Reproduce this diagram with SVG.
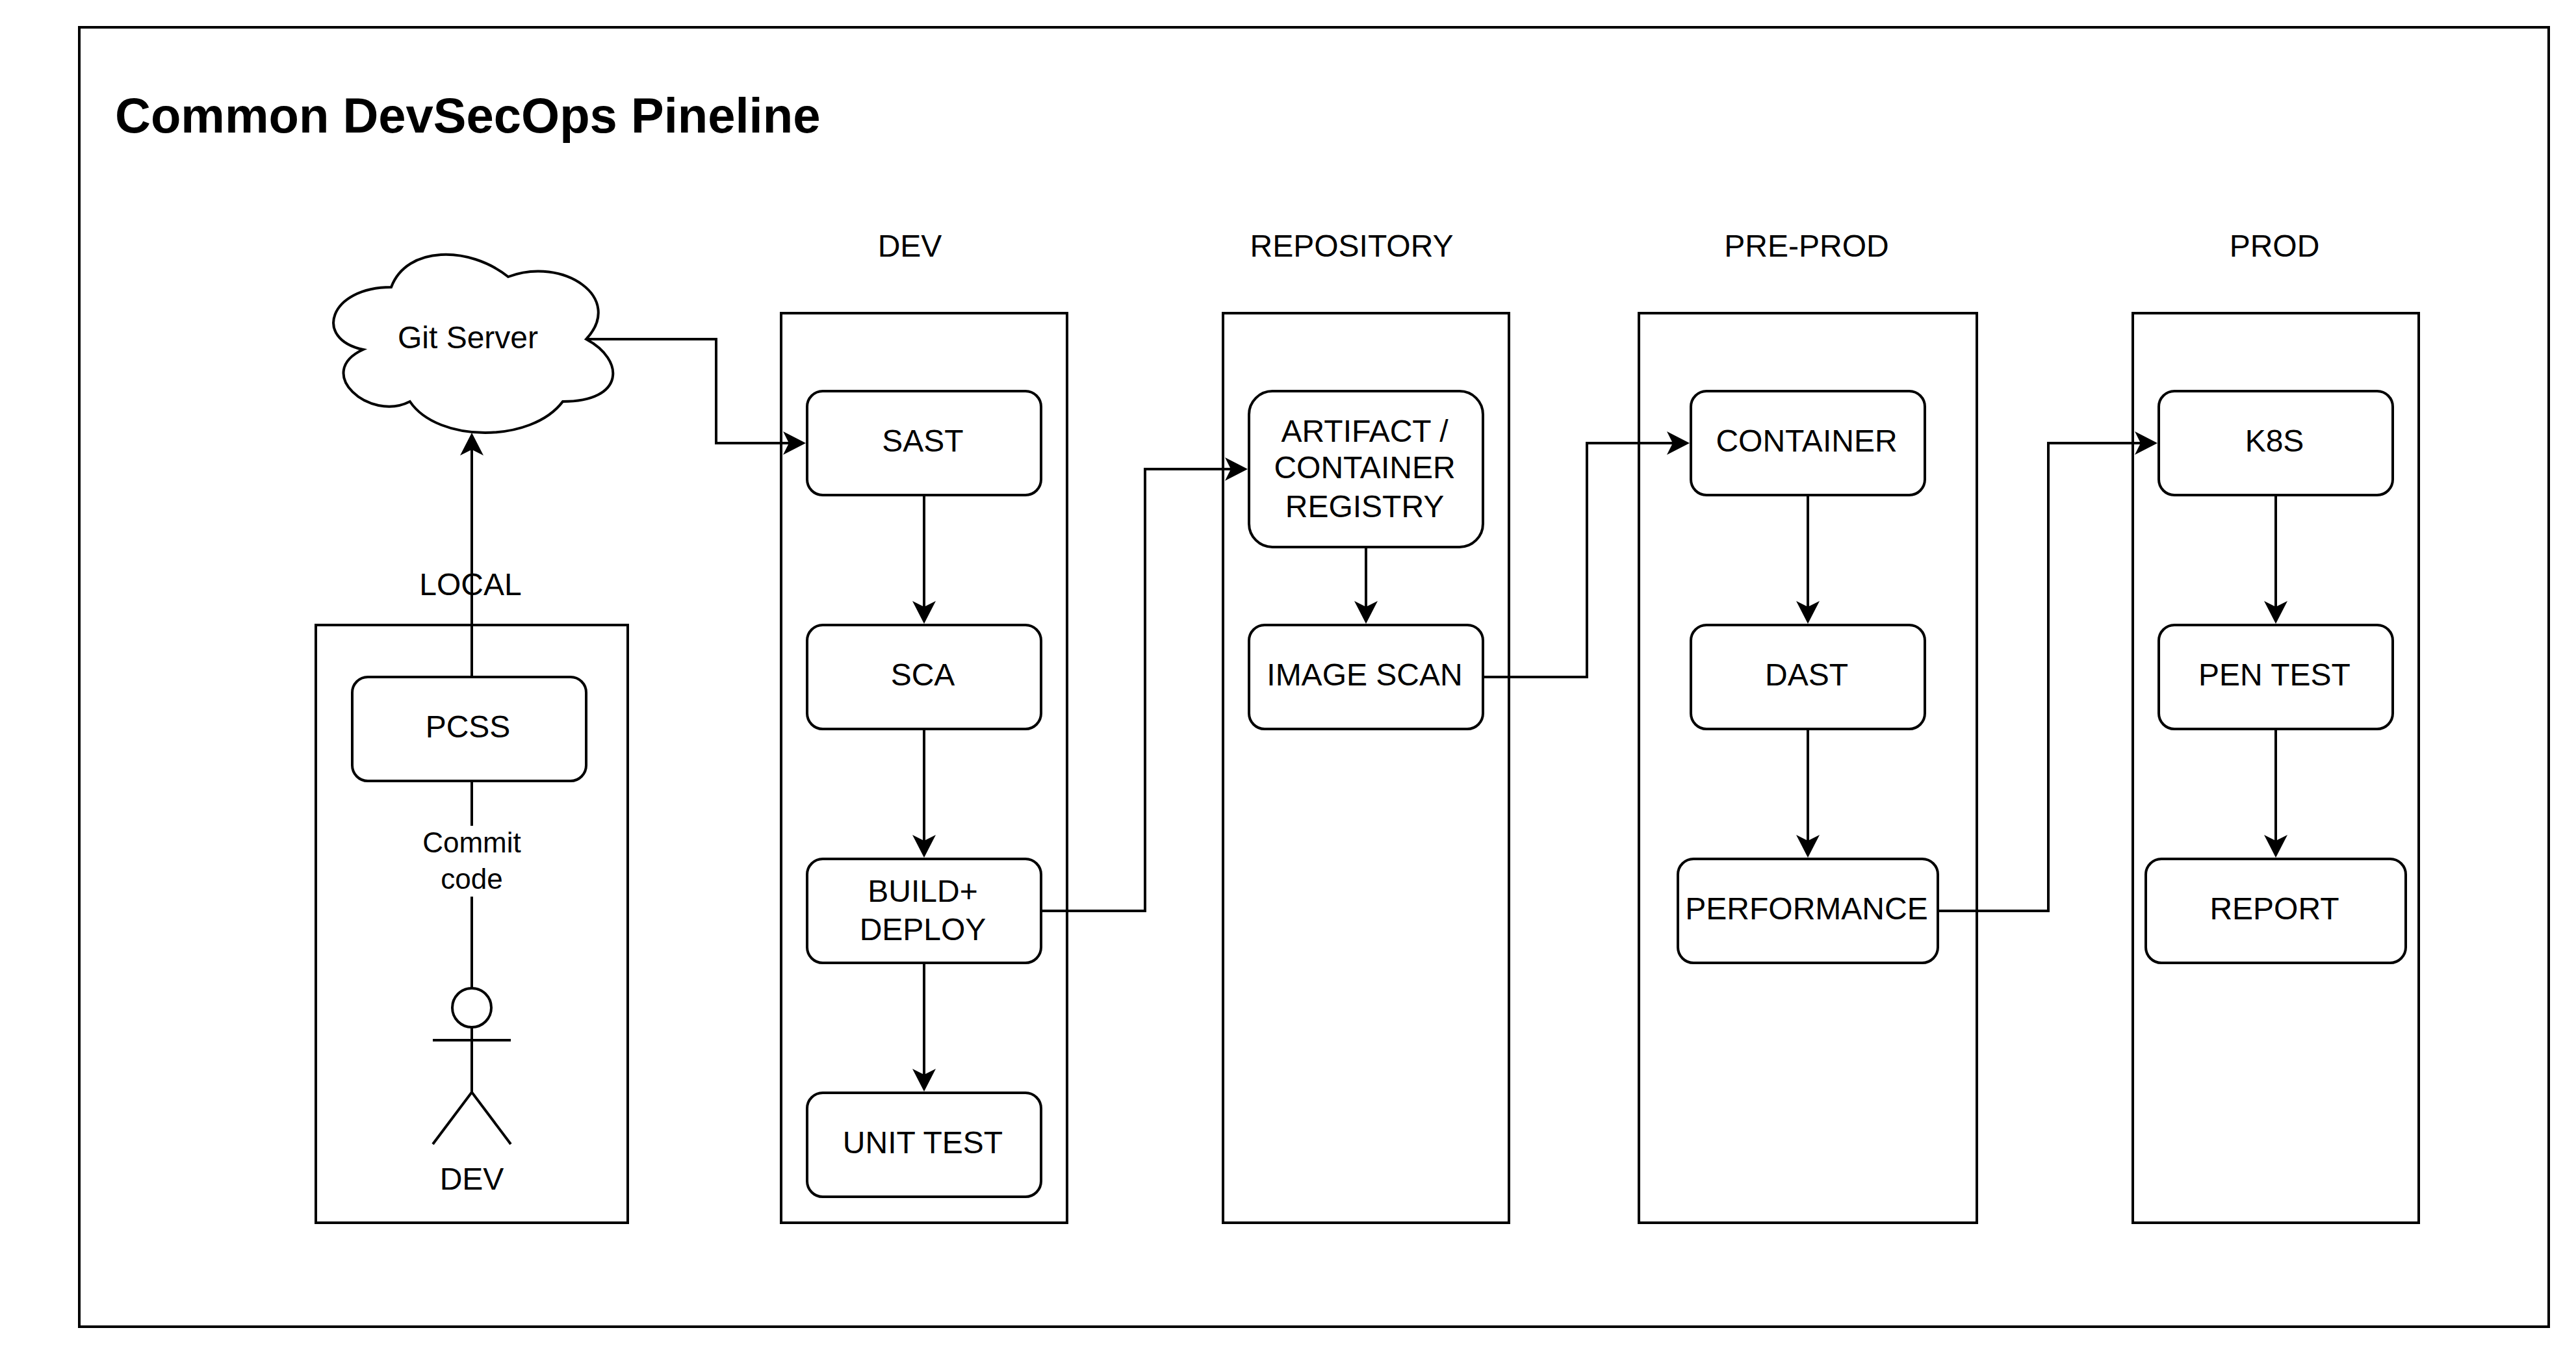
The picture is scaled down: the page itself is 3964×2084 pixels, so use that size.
<svg xmlns="http://www.w3.org/2000/svg" width="3964" height="2084" viewBox="0 0 3964 2084">
  <style>
    text { font-family: "Liberation Sans", Arial, sans-serif; font-size: 48px; fill: #000; text-anchor: middle; }
    .title { font-size: 76px; font-weight: bold; text-anchor: start; }
    .small { font-size: 44px; }
    .frame, .node, .shape { fill: #fff; stroke: #000; stroke-width: 4; }
    .link { fill: none; stroke: #000; stroke-width: 4; marker-end: url(#arrow); }
    .plain { fill: none; stroke: #000; stroke-width: 4; }
  </style>
  <defs>
    <marker id="arrow" markerUnits="userSpaceOnUse" markerWidth="36" markerHeight="40" refX="11" refY="20" orient="auto" overflow="visible">
      <path d="M0 2 L35 20 L0 38 L9 20 Z" fill="#000"/>
    </marker>
  </defs>
  <rect width="3964" height="2084" fill="#fff"/>

  <g id="frame-outer">
    <rect class="frame" x="122" y="42" width="3800" height="2000"/>
    <text class="title" x="177" y="204">Common DevSecOps Pineline</text>
  </g>

  <g id="stage-local">
    <rect class="frame" x="486" y="962" width="480" height="920"/>
    <text x="724" y="916">LOCAL</text>
  </g>
  <g id="stage-dev">
    <rect class="frame" x="1202" y="482" width="440" height="1400"/>
    <text x="1400" y="395">DEV</text>
  </g>
  <g id="stage-repository">
    <rect class="frame" x="1882" y="482" width="440" height="1400"/>
    <text x="2080" y="395">REPOSITORY</text>
  </g>
  <g id="stage-preprod">
    <rect class="frame" x="2522" y="482" width="520" height="1400"/>
    <text x="2780" y="395">PRE-PROD</text>
  </g>
  <g id="stage-prod">
    <rect class="frame" x="3282" y="482" width="440" height="1400"/>
    <text x="3500" y="395">PROD</text>
  </g>

  <g id="connectors">
    <path class="link" d="M726 1521 V1380 M726 1271 V690"/>
    <path class="link" d="M903 522 H1102 V682 H1216"/>
    <path class="link" d="M1422 762 V936"/>
    <path class="link" d="M1422 1122 V1296"/>
    <path class="link" d="M1422 1482 V1656"/>
    <path class="link" d="M1602 1402 H1762 V722 H1896"/>
    <path class="link" d="M2102 842 V936"/>
    <path class="link" d="M2282 1042 H2442 V682 H2576"/>
    <path class="link" d="M2782 762 V936"/>
    <path class="link" d="M2782 1122 V1296"/>
    <path class="link" d="M2982 1402 H3152 V682 H3296"/>
    <path class="link" d="M3502 762 V936"/>
    <path class="link" d="M3502 1122 V1296"/>
    <text class="small" x="726" y="1312">Commit</text>
    <text class="small" x="726" y="1368">code</text>
  </g>

  <g id="git-server">
    <path class="shape" d="M602 442 C506 442 482 522 558.8 538 C482 573.2 568.4 650 630.8 618 C674 682 818 682 866 618 C962 618 962 554 902 522 C962 458 866 394 782 426 C722 378 626 378 602 442 Z"/>
    <text x="720" y="536">Git Server</text>
  </g>

  <g id="pcss">
    <rect class="node" x="542" y="1042" width="360" height="160" rx="24"/>
    <text x="720" y="1135">PCSS</text>
  </g>

  <g id="actor-dev">
    <ellipse class="plain" cx="726" cy="1551" rx="30" ry="30"/>
    <path class="plain" d="M726 1581 V1681 M666 1601 H786 M666 1761 L726 1681 L786 1761"/>
    <text x="726" y="1831">DEV</text>
  </g>

  <g id="sast">
    <rect class="node" x="1242" y="602" width="360" height="160" rx="24"/>
    <text x="1420" y="695">SAST</text>
  </g>
  <g id="sca">
    <rect class="node" x="1242" y="962" width="360" height="160" rx="24"/>
    <text x="1420" y="1055">SCA</text>
  </g>
  <g id="build-deploy">
    <rect class="node" x="1242" y="1322" width="360" height="160" rx="24"/>
    <text x="1420" y="1388">BUILD+</text>
    <text x="1420" y="1447">DEPLOY</text>
  </g>
  <g id="unit-test">
    <rect class="node" x="1242" y="1682" width="360" height="160" rx="24"/>
    <text x="1420" y="1775">UNIT TEST</text>
  </g>

  <g id="artifact-registry">
    <rect class="node" x="1922" y="602" width="360" height="240" rx="36"/>
    <text x="2100" y="680">ARTIFACT /</text>
    <text x="2100" y="736">CONTAINER</text>
    <text x="2100" y="796">REGISTRY</text>
  </g>
  <g id="image-scan">
    <rect class="node" x="1922" y="962" width="360" height="160" rx="24"/>
    <text x="2100" y="1055">IMAGE SCAN</text>
  </g>

  <g id="container">
    <rect class="node" x="2602" y="602" width="360" height="160" rx="24"/>
    <text x="2780" y="695">CONTAINER</text>
  </g>
  <g id="dast">
    <rect class="node" x="2602" y="962" width="360" height="160" rx="24"/>
    <text x="2780" y="1055">DAST</text>
  </g>
  <g id="performance">
    <rect class="node" x="2582" y="1322" width="400" height="160" rx="24"/>
    <text x="2780" y="1415">PERFORMANCE</text>
  </g>

  <g id="k8s">
    <rect class="node" x="3322" y="602" width="360" height="160" rx="24"/>
    <text x="3500" y="695">K8S</text>
  </g>
  <g id="pen-test">
    <rect class="node" x="3322" y="962" width="360" height="160" rx="24"/>
    <text x="3500" y="1055">PEN TEST</text>
  </g>
  <g id="report">
    <rect class="node" x="3302" y="1322" width="400" height="160" rx="24"/>
    <text x="3500" y="1415">REPORT</text>
  </g>
</svg>
